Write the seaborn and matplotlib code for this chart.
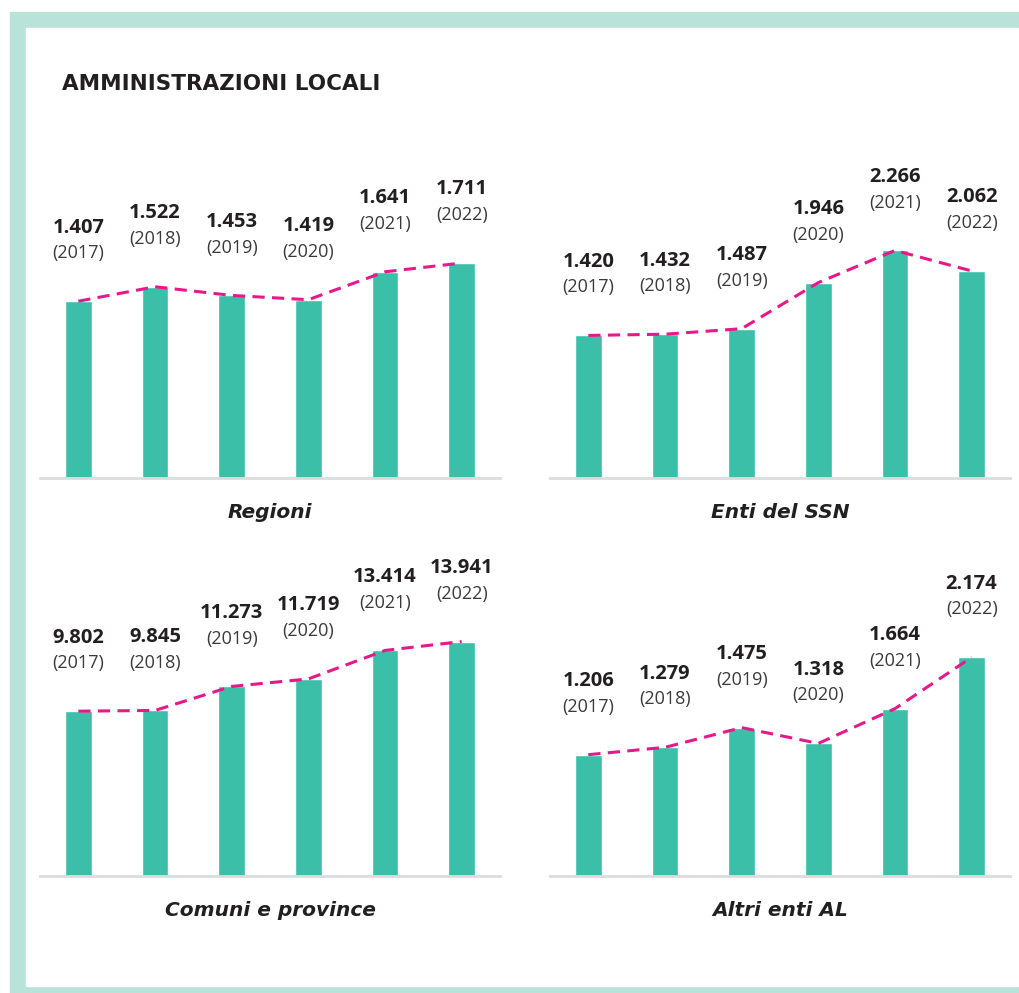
import matplotlib
matplotlib.use("Agg")
import matplotlib.pyplot as plt
import seaborn as sns
import pandas as pd
from matplotlib.patches import Rectangle

anni = ['2017', '2018', '2019', '2020', '2021', '2022']
regioni = [1407, 1522, 1453, 1419, 1641, 1711]
enti_ssn = [1420, 1432, 1487, 1946, 2266, 2062]
comuni_province = [9802, 9845, 11273, 11719, 13414, 13941]
altri_enti = [1206, 1279, 1475, 1318, 1664, 2174]
titoli = ['Regioni', 'Enti del SSN', 'Comuni e province', 'Altri enti AL']

sns.set_theme(style='white')
plt.rcParams['font.family'] = ['Open Sans', 'DejaVu Sans']

VERDE = '#3bbfa9'
MAGENTA = '#e6198b'
TESTO = '#231f20'

W, H = 1020, 993
fig = plt.figure(figsize=(W / 100, H / 100), dpi=100)

# cornice
fig.patches.append(Rectangle((10 / W, 0), 1, 1 - 12 / H, transform=fig.transFigure,
                             color='#b9e3d8', zorder=-2))
fig.patches.append(Rectangle((26 / W, 7 / H), (1018 - 26) / W, (986 - 28) / H,
                             transform=fig.transFigure, color='white', zorder=-1))

fig.text(62 / W, 1 - 84 / H, 'AMMINISTRAZIONI LOCALI', fontsize=15.5, fontweight='bold',
         family=['DejaVu Sans'], color=TESTO, va='center', ha='left')

# (serie, sinistra px, base px, massimo asse y)
pannelli = [
    (regioni, 40, 478, 2690),
    (enti_ssn, 550, 478, 3366),
    (comuni_province, 40, 876, 20100),
    (altri_enti, 550, 876, 3360),
]


def formato(v):
    return f'{v:,}'.replace(',', '.')


for (valori, sx, base, ymax), titolo in zip(pannelli, titoli):
    ax = fig.add_axes([sx / W, (H - base) / H, 460 / W, 338 / H])
    df = pd.DataFrame({'anno': anni, 'valore': valori})
    sns.barplot(data=df, x='anno', y='valore', color=VERDE, width=0.35,
                saturation=1, ax=ax)
    sns.pointplot(data=df, x='anno', y='valore', color=MAGENTA, errorbar=None,
                  marker='', linewidth=2.2, dashes=(4, 2.4), ax=ax)
    for i, v in enumerate(valori):
        ax.annotate(formato(v), (i, v), xytext=(0, 53), textcoords='offset points',
                    ha='center', va='center', fontsize=14.5, fontweight='bold', color=TESTO)
        ax.annotate(f'({anni[i]})', (i, v), xytext=(0, 34.5), textcoords='offset points',
                    ha='center', va='center', fontsize=13, color='#3a3a3a')
    ax.set_xlim(-0.5, 5.5)
    ax.set_ylim(0, ymax)
    ax.set_xticks([])
    ax.set_yticks([])
    ax.set_xlabel('')
    ax.set_ylabel('')
    ax.set_facecolor('none')
    for lato in ['top', 'left', 'right']:
        ax.spines[lato].set_visible(False)
    ax.spines['bottom'].set_color('#dcdcdc')
    ax.spines['bottom'].set_linewidth(2)
    ax.text(0.5, -35 / 338, titolo, transform=ax.transAxes, ha='center', va='center',
            fontsize=14.5, fontweight='bold', fontstyle='italic', family=['DejaVu Sans'],
            color=TESTO)

fig.savefig('out.png', dpi=100)
